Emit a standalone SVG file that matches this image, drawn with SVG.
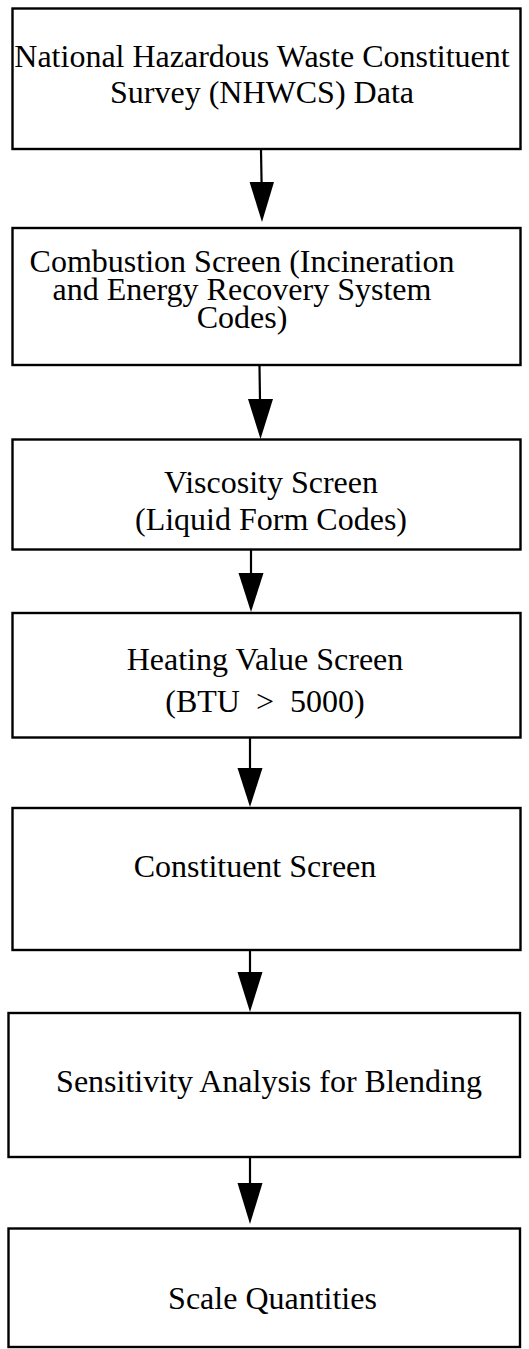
<svg xmlns="http://www.w3.org/2000/svg" width="529" height="1349" viewBox="0 0 529 1349">
  <style>
    .box { fill: #ffffff; stroke: #000000; stroke-width: 2.4; }
    .lbl { font-family: "Liberation Serif", "Times New Roman", serif; font-size: 32px; fill: #000000; text-anchor: middle; }
    .wire { stroke: #000000; stroke-width: 2.2; fill: none; }
    .head { fill: #000000; stroke: none; }
  </style>
  <rect width="529" height="1349" fill="#ffffff"/>

  <!-- process steps; multi-line labels are one text element each -->
  <g id="nhwcs-data">
    <rect class="box" x="12.5" y="8.5" width="508" height="140.5"/>
    <text class="lbl" x="262" y="67">National Hazardous Waste Constituent<tspan x="262" dy="36">Survey (NHWCS) Data</tspan></text>
  </g>
  <g id="combustion-screen">
    <rect class="box" x="12.5" y="228" width="508" height="137"/>
    <text class="lbl" x="242" y="272">Combustion Screen (Incineration<tspan x="242" dy="28">and Energy Recovery System</tspan><tspan x="242" dy="28">Codes)</tspan></text>
  </g>
  <g id="viscosity-screen">
    <rect class="box" x="12.5" y="439.5" width="508" height="110"/>
    <text class="lbl" x="271" y="493">Viscosity Screen<tspan x="271" dy="37">(Liquid Form Codes)</tspan></text>
  </g>
  <g id="heating-value-screen">
    <rect class="box" x="12.5" y="613" width="508" height="124.5"/>
    <text class="lbl" x="265" y="670" xml:space="preserve">Heating Value Screen<tspan x="265" dy="42">(BTU  &gt;  5000)</tspan></text>
  </g>
  <g id="constituent-screen">
    <rect class="box" x="12.5" y="808" width="508" height="142"/>
    <text class="lbl" x="255" y="877">Constituent Screen</text>
  </g>
  <g id="sensitivity-analysis">
    <rect class="box" x="8.5" y="1013" width="511.5" height="144"/>
    <text class="lbl" x="269" y="1092">Sensitivity Analysis for Blending</text>
  </g>
  <g id="scale-quantities">
    <rect class="box" x="8.5" y="1228.5" width="511.5" height="118.5"/>
    <text class="lbl" x="272.5" y="1309">Scale Quantities</text>
  </g>

  <!-- flow arrows between steps -->
  <g id="connectors">
    <line class="wire" x1="261" y1="150" x2="261.6" y2="184"/>
    <polygon class="head" points="249.6,182 274,182 262,222"/>

    <line class="wire" x1="259.5" y1="366" x2="260" y2="401"/>
    <polygon class="head" points="248,399 273,399 260.5,439"/>

    <line class="wire" x1="251" y1="550" x2="251" y2="575"/>
    <polygon class="head" points="238.5,573 263.5,573 251,612"/>

    <line class="wire" x1="250" y1="738" x2="250" y2="770"/>
    <polygon class="head" points="237.5,768 262.5,768 250,807"/>

    <line class="wire" x1="250" y1="950" x2="250" y2="974"/>
    <polygon class="head" points="237.5,972 262.5,972 250,1012"/>

    <line class="wire" x1="250" y1="1157" x2="250" y2="1185"/>
    <polygon class="head" points="237.5,1183 262.5,1183 250,1224"/>
  </g>
</svg>
